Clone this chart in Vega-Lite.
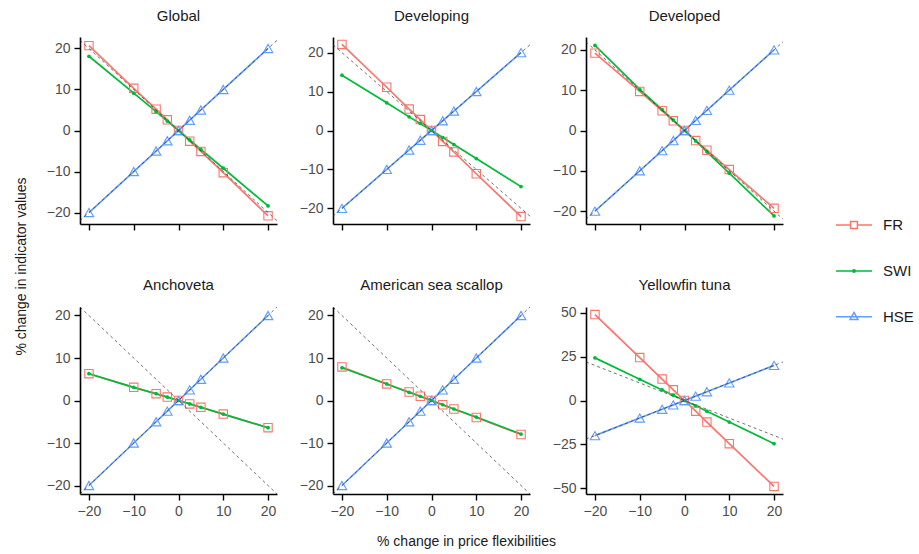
{
  "$schema": "https://vega.github.io/schema/vega-lite/v6.json",
  "datasets": {
    "main": [
      {"panel":"Global","series":"FR","x":-20,"y":20.7},{"panel":"Global","series":"FR","x":-10,"y":10.3},{"panel":"Global","series":"FR","x":-5,"y":5.2},{"panel":"Global","series":"FR","x":-2.5,"y":2.6},{"panel":"Global","series":"FR","x":0,"y":0},{"panel":"Global","series":"FR","x":2.5,"y":-2.6},{"panel":"Global","series":"FR","x":5,"y":-5.1},{"panel":"Global","series":"FR","x":10,"y":-10.3},{"panel":"Global","series":"FR","x":20,"y":-20.8},
      {"panel":"Global","series":"SWI","x":-20,"y":18.1},{"panel":"Global","series":"SWI","x":-10,"y":9.1},{"panel":"Global","series":"SWI","x":-5,"y":4.6},{"panel":"Global","series":"SWI","x":-2.5,"y":2.3},{"panel":"Global","series":"SWI","x":0,"y":0},{"panel":"Global","series":"SWI","x":2.5,"y":-2.3},{"panel":"Global","series":"SWI","x":5,"y":-4.6},{"panel":"Global","series":"SWI","x":10,"y":-9.2},{"panel":"Global","series":"SWI","x":20,"y":-18.4},
      {"panel":"Global","series":"HSE","x":-20,"y":-20},{"panel":"Global","series":"HSE","x":-10,"y":-10},{"panel":"Global","series":"HSE","x":-5,"y":-5},{"panel":"Global","series":"HSE","x":-2.5,"y":-2.5},{"panel":"Global","series":"HSE","x":0,"y":0},{"panel":"Global","series":"HSE","x":2.5,"y":2.5},{"panel":"Global","series":"HSE","x":5,"y":5},{"panel":"Global","series":"HSE","x":10,"y":10},{"panel":"Global","series":"HSE","x":20,"y":20},
      {"panel":"Developing","series":"FR","x":-20,"y":22.1},{"panel":"Developing","series":"FR","x":-10,"y":11.1},{"panel":"Developing","series":"FR","x":-5,"y":5.5},{"panel":"Developing","series":"FR","x":-2.5,"y":2.8},{"panel":"Developing","series":"FR","x":0,"y":0},{"panel":"Developing","series":"FR","x":2.5,"y":-2.8},{"panel":"Developing","series":"FR","x":5,"y":-5.5},{"panel":"Developing","series":"FR","x":10,"y":-11.1},{"panel":"Developing","series":"FR","x":20,"y":-22.1},
      {"panel":"Developing","series":"SWI","x":-20,"y":14.2},{"panel":"Developing","series":"SWI","x":-10,"y":7.1},{"panel":"Developing","series":"SWI","x":-5,"y":3.5},{"panel":"Developing","series":"SWI","x":-2.5,"y":1.8},{"panel":"Developing","series":"SWI","x":0,"y":0},{"panel":"Developing","series":"SWI","x":2.5,"y":-1.8},{"panel":"Developing","series":"SWI","x":5,"y":-3.6},{"panel":"Developing","series":"SWI","x":10,"y":-7.2},{"panel":"Developing","series":"SWI","x":20,"y":-14.4},
      {"panel":"Developing","series":"HSE","x":-20,"y":-20},{"panel":"Developing","series":"HSE","x":-10,"y":-10},{"panel":"Developing","series":"HSE","x":-5,"y":-5},{"panel":"Developing","series":"HSE","x":-2.5,"y":-2.5},{"panel":"Developing","series":"HSE","x":0,"y":0},{"panel":"Developing","series":"HSE","x":2.5,"y":2.5},{"panel":"Developing","series":"HSE","x":5,"y":5},{"panel":"Developing","series":"HSE","x":10,"y":10},{"panel":"Developing","series":"HSE","x":20,"y":20},
      {"panel":"Developed","series":"FR","x":-20,"y":19.2},{"panel":"Developed","series":"FR","x":-10,"y":9.7},{"panel":"Developed","series":"FR","x":-5,"y":4.9},{"panel":"Developed","series":"FR","x":-2.5,"y":2.4},{"panel":"Developed","series":"FR","x":0,"y":0},{"panel":"Developed","series":"FR","x":2.5,"y":-2.5},{"panel":"Developed","series":"FR","x":5,"y":-4.9},{"panel":"Developed","series":"FR","x":10,"y":-9.7},{"panel":"Developed","series":"FR","x":20,"y":-19.3},
      {"panel":"Developed","series":"SWI","x":-20,"y":21.1},{"panel":"Developed","series":"SWI","x":-10,"y":10.2},{"panel":"Developed","series":"SWI","x":-5,"y":5.2},{"panel":"Developed","series":"SWI","x":-2.5,"y":2.6},{"panel":"Developed","series":"SWI","x":0,"y":0},{"panel":"Developed","series":"SWI","x":2.5,"y":-2.6},{"panel":"Developed","series":"SWI","x":5,"y":-5.3},{"panel":"Developed","series":"SWI","x":10,"y":-10.6},{"panel":"Developed","series":"SWI","x":20,"y":-21.2},
      {"panel":"Developed","series":"HSE","x":-20,"y":-20},{"panel":"Developed","series":"HSE","x":-10,"y":-10},{"panel":"Developed","series":"HSE","x":-5,"y":-5},{"panel":"Developed","series":"HSE","x":-2.5,"y":-2.5},{"panel":"Developed","series":"HSE","x":0,"y":0},{"panel":"Developed","series":"HSE","x":2.5,"y":2.5},{"panel":"Developed","series":"HSE","x":5,"y":5},{"panel":"Developed","series":"HSE","x":10,"y":10},{"panel":"Developed","series":"HSE","x":20,"y":20},
      {"panel":"Anchoveta","series":"FR","x":-20,"y":6.3},{"panel":"Anchoveta","series":"FR","x":-10,"y":3.1},{"panel":"Anchoveta","series":"FR","x":-5,"y":1.6},{"panel":"Anchoveta","series":"FR","x":-2.5,"y":0.8},{"panel":"Anchoveta","series":"FR","x":0,"y":0},{"panel":"Anchoveta","series":"FR","x":2.5,"y":-0.8},{"panel":"Anchoveta","series":"FR","x":5,"y":-1.6},{"panel":"Anchoveta","series":"FR","x":10,"y":-3.2},{"panel":"Anchoveta","series":"FR","x":20,"y":-6.4},
      {"panel":"Anchoveta","series":"SWI","x":-20,"y":6.3},{"panel":"Anchoveta","series":"SWI","x":-10,"y":3.1},{"panel":"Anchoveta","series":"SWI","x":-5,"y":1.6},{"panel":"Anchoveta","series":"SWI","x":-2.5,"y":0.8},{"panel":"Anchoveta","series":"SWI","x":0,"y":0},{"panel":"Anchoveta","series":"SWI","x":2.5,"y":-0.8},{"panel":"Anchoveta","series":"SWI","x":5,"y":-1.6},{"panel":"Anchoveta","series":"SWI","x":10,"y":-3.2},{"panel":"Anchoveta","series":"SWI","x":20,"y":-6.4},
      {"panel":"Anchoveta","series":"HSE","x":-20,"y":-20},{"panel":"Anchoveta","series":"HSE","x":-10,"y":-10},{"panel":"Anchoveta","series":"HSE","x":-5,"y":-5},{"panel":"Anchoveta","series":"HSE","x":-2.5,"y":-2.5},{"panel":"Anchoveta","series":"HSE","x":0,"y":0},{"panel":"Anchoveta","series":"HSE","x":2.5,"y":2.5},{"panel":"Anchoveta","series":"HSE","x":5,"y":5},{"panel":"Anchoveta","series":"HSE","x":10,"y":10},{"panel":"Anchoveta","series":"HSE","x":20,"y":20},
      {"panel":"American sea scallop","series":"FR","x":-20,"y":7.9},{"panel":"American sea scallop","series":"FR","x":-10,"y":3.9},{"panel":"American sea scallop","series":"FR","x":-5,"y":2.0},{"panel":"American sea scallop","series":"FR","x":-2.5,"y":1.0},{"panel":"American sea scallop","series":"FR","x":0,"y":0},{"panel":"American sea scallop","series":"FR","x":2.5,"y":-1.0},{"panel":"American sea scallop","series":"FR","x":5,"y":-2.0},{"panel":"American sea scallop","series":"FR","x":10,"y":-4.0},{"panel":"American sea scallop","series":"FR","x":20,"y":-8.0},
      {"panel":"American sea scallop","series":"SWI","x":-20,"y":7.7},{"panel":"American sea scallop","series":"SWI","x":-10,"y":3.9},{"panel":"American sea scallop","series":"SWI","x":-5,"y":1.9},{"panel":"American sea scallop","series":"SWI","x":-2.5,"y":1.0},{"panel":"American sea scallop","series":"SWI","x":0,"y":0},{"panel":"American sea scallop","series":"SWI","x":2.5,"y":-1.0},{"panel":"American sea scallop","series":"SWI","x":5,"y":-2.0},{"panel":"American sea scallop","series":"SWI","x":10,"y":-3.9},{"panel":"American sea scallop","series":"SWI","x":20,"y":-7.9},
      {"panel":"American sea scallop","series":"HSE","x":-20,"y":-20},{"panel":"American sea scallop","series":"HSE","x":-10,"y":-10},{"panel":"American sea scallop","series":"HSE","x":-5,"y":-5},{"panel":"American sea scallop","series":"HSE","x":-2.5,"y":-2.5},{"panel":"American sea scallop","series":"HSE","x":0,"y":0},{"panel":"American sea scallop","series":"HSE","x":2.5,"y":2.5},{"panel":"American sea scallop","series":"HSE","x":5,"y":5},{"panel":"American sea scallop","series":"HSE","x":10,"y":10},{"panel":"American sea scallop","series":"HSE","x":20,"y":20},
      {"panel":"Yellowfin tuna","series":"FR","x":-20,"y":49.0},{"panel":"Yellowfin tuna","series":"FR","x":-10,"y":24.5},{"panel":"Yellowfin tuna","series":"FR","x":-5,"y":12.2},{"panel":"Yellowfin tuna","series":"FR","x":-2.5,"y":6.1},{"panel":"Yellowfin tuna","series":"FR","x":0,"y":0},{"panel":"Yellowfin tuna","series":"FR","x":2.5,"y":-6.1},{"panel":"Yellowfin tuna","series":"FR","x":5,"y":-12.3},{"panel":"Yellowfin tuna","series":"FR","x":10,"y":-24.6},{"panel":"Yellowfin tuna","series":"FR","x":20,"y":-49.0},
      {"panel":"Yellowfin tuna","series":"SWI","x":-20,"y":24.3},{"panel":"Yellowfin tuna","series":"SWI","x":-10,"y":12.1},{"panel":"Yellowfin tuna","series":"SWI","x":-5,"y":6.0},{"panel":"Yellowfin tuna","series":"SWI","x":-2.5,"y":3.0},{"panel":"Yellowfin tuna","series":"SWI","x":0,"y":0},{"panel":"Yellowfin tuna","series":"SWI","x":2.5,"y":-3.0},{"panel":"Yellowfin tuna","series":"SWI","x":5,"y":-6.1},{"panel":"Yellowfin tuna","series":"SWI","x":10,"y":-12.3},{"panel":"Yellowfin tuna","series":"SWI","x":20,"y":-24.6},
      {"panel":"Yellowfin tuna","series":"HSE","x":-20,"y":-20},{"panel":"Yellowfin tuna","series":"HSE","x":-10,"y":-10},{"panel":"Yellowfin tuna","series":"HSE","x":-5,"y":-5},{"panel":"Yellowfin tuna","series":"HSE","x":-2.5,"y":-2.5},{"panel":"Yellowfin tuna","series":"HSE","x":0,"y":0},{"panel":"Yellowfin tuna","series":"HSE","x":2.5,"y":2.5},{"panel":"Yellowfin tuna","series":"HSE","x":5,"y":5},{"panel":"Yellowfin tuna","series":"HSE","x":10,"y":10},{"panel":"Yellowfin tuna","series":"HSE","x":20,"y":20}
    ],
    "ref": [
      {"ref":"up","x":-22,"y":-22},{"ref":"up","x":22,"y":22},
      {"ref":"down","x":-22,"y":22},{"ref":"down","x":22,"y":-22}
    ]
  },
  "data": {"name": "main"},
  "columns": 3,
  "spacing": {"row": 83, "column": 56},
  "bounds": "flush",
  "padding": {"left": 14, "top": 9, "right": 5, "bottom": 5},
  "concat": [
    {
      "width": 197, "height": 187, "title": "Global",
      "encoding": {
        "x": {"field": "x", "type": "quantitative", "scale": {"domain": [-22, 22], "nice": false, "zero": false}, "axis": {"values": [-20, -10, 0, 10, 20], "labels": false, "title": null}},
        "y": {"field": "y", "type": "quantitative", "scale": {"domain": [-22.8, 22.8], "nice": false, "zero": false}, "axis": {"values": [-20, -10, 0, 10, 20], "title": "% change in indicator values", "titleX": -55, "titleY": 229, "titleBaseline": "alphabetic", "titleAnchor": null, "titleAlign": "center"}}
      },
      "layer": [
        {"transform": [{"filter": "datum.panel === 'Global'"}], "mark": {"type": "line", "strokeWidth": 1.7},
         "encoding": {"color": {"field": "series", "type": "nominal", "scale": {"domain": ["FR", "SWI", "HSE"], "range": ["#F8766D", "#00BA38", "#619CFF"]},
           "legend": {"title": null, "orient": "none", "legendX": 755, "legendY": 169, "symbolSize": 1296, "rowPadding": 18.9, "labelOffset": 10, "padding": 0, "symbolStrokeWidth": 1.5, "labelFontSize": 15, "labelColor": "#1a1a1a",
             "encode": {"symbols": {"update": {
               "shape": {"signal": "datum.value === 'FR' ? 'M-1,0H-0.19M0.19,0H1M-0.19,-0.19H0.19V0.19H-0.19Z' : datum.value === 'SWI' ? 'M-1,0H1M-0.07,0A0.07,0.07 0 1,0 0.07,0A0.07,0.07 0 1,0 -0.07,0Z' : 'M-1,0H1M0,-0.24L0.22,0.15L-0.22,0.15Z'"},
               "fillOpacity": {"signal": "datum.value === 'SWI' ? 1 : 0"}
             }}}}}}},
        {"transform": [{"filter": "datum.panel === 'Global' && datum.series === 'FR'"}], "mark": {"type": "point", "shape": "square", "filled": false, "size": 70, "strokeWidth": 1.1, "opacity": 1}, "encoding": {"color": {"field": "series", "type": "nominal", "legend": null}}},
        {"transform": [{"filter": "datum.panel === 'Global' && datum.series === 'SWI'"}], "mark": {"type": "point", "shape": "circle", "filled": true, "size": 14, "opacity": 1}, "encoding": {"color": {"field": "series", "type": "nominal", "legend": null}}},
        {"transform": [{"filter": "datum.panel === 'Global' && datum.series === 'HSE'"}], "mark": {"type": "point", "shape": "triangle-up", "filled": false, "size": 90, "strokeWidth": 1.1, "opacity": 1}, "encoding": {"color": {"field": "series", "type": "nominal", "legend": null}}},
        {"data": {"name": "ref"}, "mark": {"type": "line", "strokeDash": [3, 3], "strokeWidth": 0.7, "color": "#333333"}, "encoding": {"detail": {"field": "ref"}}}
      ]
    },
    {
      "width": 197, "height": 187, "title": "Developing",
      "encoding": {
        "x": {"field": "x", "type": "quantitative", "scale": {"domain": [-22, 22], "nice": false, "zero": false}, "axis": {"values": [-20, -10, 0, 10, 20], "labels": false, "title": null}},
        "y": {"field": "y", "type": "quantitative", "scale": {"domain": [-24, 24], "nice": false, "zero": false}, "axis": {"values": [-20, -10, 0, 10, 20], "title": null}}
      },
      "layer": [
        {"transform": [{"filter": "datum.panel === 'Developing'"}], "mark": {"type": "line", "strokeWidth": 1.7}, "encoding": {"color": {"field": "series", "type": "nominal", "legend": null}}},
        {"transform": [{"filter": "datum.panel === 'Developing' && datum.series === 'FR'"}], "mark": {"type": "point", "shape": "square", "filled": false, "size": 70, "strokeWidth": 1.1, "opacity": 1}, "encoding": {"color": {"field": "series", "type": "nominal", "legend": null}}},
        {"transform": [{"filter": "datum.panel === 'Developing' && datum.series === 'SWI'"}], "mark": {"type": "point", "shape": "circle", "filled": true, "size": 14, "opacity": 1}, "encoding": {"color": {"field": "series", "type": "nominal", "legend": null}}},
        {"transform": [{"filter": "datum.panel === 'Developing' && datum.series === 'HSE'"}], "mark": {"type": "point", "shape": "triangle-up", "filled": false, "size": 90, "strokeWidth": 1.1, "opacity": 1}, "encoding": {"color": {"field": "series", "type": "nominal", "legend": null}}},
        {"data": {"name": "ref"}, "mark": {"type": "line", "strokeDash": [3, 3], "strokeWidth": 0.7, "color": "#333333"}, "encoding": {"detail": {"field": "ref"}}}
      ]
    },
    {
      "width": 197, "height": 187, "title": "Developed",
      "encoding": {
        "x": {"field": "x", "type": "quantitative", "scale": {"domain": [-22, 22], "nice": false, "zero": false}, "axis": {"values": [-20, -10, 0, 10, 20], "labels": false, "title": null}},
        "y": {"field": "y", "type": "quantitative", "scale": {"domain": [-23.2, 23.2], "nice": false, "zero": false}, "axis": {"values": [-20, -10, 0, 10, 20], "title": null}}
      },
      "layer": [
        {"transform": [{"filter": "datum.panel === 'Developed'"}], "mark": {"type": "line", "strokeWidth": 1.7}, "encoding": {"color": {"field": "series", "type": "nominal", "legend": null}}},
        {"transform": [{"filter": "datum.panel === 'Developed' && datum.series === 'FR'"}], "mark": {"type": "point", "shape": "square", "filled": false, "size": 70, "strokeWidth": 1.1, "opacity": 1}, "encoding": {"color": {"field": "series", "type": "nominal", "legend": null}}},
        {"transform": [{"filter": "datum.panel === 'Developed' && datum.series === 'SWI'"}], "mark": {"type": "point", "shape": "circle", "filled": true, "size": 14, "opacity": 1}, "encoding": {"color": {"field": "series", "type": "nominal", "legend": null}}},
        {"transform": [{"filter": "datum.panel === 'Developed' && datum.series === 'HSE'"}], "mark": {"type": "point", "shape": "triangle-up", "filled": false, "size": 90, "strokeWidth": 1.1, "opacity": 1}, "encoding": {"color": {"field": "series", "type": "nominal", "legend": null}}},
        {"data": {"name": "ref"}, "mark": {"type": "line", "strokeDash": [3, 3], "strokeWidth": 0.7, "color": "#333333"}, "encoding": {"detail": {"field": "ref"}}}
      ]
    },
    {
      "width": 197, "height": 187, "title": "Anchoveta",
      "encoding": {
        "x": {"field": "x", "type": "quantitative", "scale": {"domain": [-22, 22], "nice": false, "zero": false}, "axis": {"values": [-20, -10, 0, 10, 20], "title": null}},
        "y": {"field": "y", "type": "quantitative", "scale": {"domain": [-22, 22], "nice": false, "zero": false}, "axis": {"values": [-20, -10, 0, 10, 20], "title": null}}
      },
      "layer": [
        {"transform": [{"filter": "datum.panel === 'Anchoveta'"}], "mark": {"type": "line", "strokeWidth": 1.7}, "encoding": {"color": {"field": "series", "type": "nominal", "legend": null}}},
        {"transform": [{"filter": "datum.panel === 'Anchoveta' && datum.series === 'FR'"}], "mark": {"type": "point", "shape": "square", "filled": false, "size": 70, "strokeWidth": 1.1, "opacity": 1}, "encoding": {"color": {"field": "series", "type": "nominal", "legend": null}}},
        {"transform": [{"filter": "datum.panel === 'Anchoveta' && datum.series === 'SWI'"}], "mark": {"type": "point", "shape": "circle", "filled": true, "size": 14, "opacity": 1}, "encoding": {"color": {"field": "series", "type": "nominal", "legend": null}}},
        {"transform": [{"filter": "datum.panel === 'Anchoveta' && datum.series === 'HSE'"}], "mark": {"type": "point", "shape": "triangle-up", "filled": false, "size": 90, "strokeWidth": 1.1, "opacity": 1}, "encoding": {"color": {"field": "series", "type": "nominal", "legend": null}}},
        {"data": {"name": "ref"}, "mark": {"type": "line", "strokeDash": [3, 3], "strokeWidth": 0.7, "color": "#333333"}, "encoding": {"detail": {"field": "ref"}}}
      ]
    },
    {
      "width": 197, "height": 187, "title": "American sea scallop",
      "encoding": {
        "x": {"field": "x", "type": "quantitative", "scale": {"domain": [-22, 22], "nice": false, "zero": false}, "axis": {"values": [-20, -10, 0, 10, 20], "title": "% change in price flexibilities", "titleX": 133, "titleY": 51, "titleBaseline": "alphabetic", "titleAnchor": null, "titleAlign": "center"}},
        "y": {"field": "y", "type": "quantitative", "scale": {"domain": [-22, 22], "nice": false, "zero": false}, "axis": {"values": [-20, -10, 0, 10, 20], "title": null}}
      },
      "layer": [
        {"transform": [{"filter": "datum.panel === 'American sea scallop'"}], "mark": {"type": "line", "strokeWidth": 1.7}, "encoding": {"color": {"field": "series", "type": "nominal", "legend": null}}},
        {"transform": [{"filter": "datum.panel === 'American sea scallop' && datum.series === 'FR'"}], "mark": {"type": "point", "shape": "square", "filled": false, "size": 70, "strokeWidth": 1.1, "opacity": 1}, "encoding": {"color": {"field": "series", "type": "nominal", "legend": null}}},
        {"transform": [{"filter": "datum.panel === 'American sea scallop' && datum.series === 'SWI'"}], "mark": {"type": "point", "shape": "circle", "filled": true, "size": 14, "opacity": 1}, "encoding": {"color": {"field": "series", "type": "nominal", "legend": null}}},
        {"transform": [{"filter": "datum.panel === 'American sea scallop' && datum.series === 'HSE'"}], "mark": {"type": "point", "shape": "triangle-up", "filled": false, "size": 90, "strokeWidth": 1.1, "opacity": 1}, "encoding": {"color": {"field": "series", "type": "nominal", "legend": null}}},
        {"data": {"name": "ref"}, "mark": {"type": "line", "strokeDash": [3, 3], "strokeWidth": 0.7, "color": "#333333"}, "encoding": {"detail": {"field": "ref"}}}
      ]
    },
    {
      "width": 197, "height": 187, "title": "Yellowfin tuna",
      "encoding": {
        "x": {"field": "x", "type": "quantitative", "scale": {"domain": [-22, 22], "nice": false, "zero": false}, "axis": {"values": [-20, -10, 0, 10, 20], "title": null}},
        "y": {"field": "y", "type": "quantitative", "scale": {"domain": [-53.3, 53.3], "nice": false, "zero": false}, "axis": {"values": [-50, -25, 0, 25, 50], "title": null}}
      },
      "layer": [
        {"transform": [{"filter": "datum.panel === 'Yellowfin tuna'"}], "mark": {"type": "line", "strokeWidth": 1.7}, "encoding": {"color": {"field": "series", "type": "nominal", "legend": null}}},
        {"transform": [{"filter": "datum.panel === 'Yellowfin tuna' && datum.series === 'FR'"}], "mark": {"type": "point", "shape": "square", "filled": false, "size": 70, "strokeWidth": 1.1, "opacity": 1}, "encoding": {"color": {"field": "series", "type": "nominal", "legend": null}}},
        {"transform": [{"filter": "datum.panel === 'Yellowfin tuna' && datum.series === 'SWI'"}], "mark": {"type": "point", "shape": "circle", "filled": true, "size": 14, "opacity": 1}, "encoding": {"color": {"field": "series", "type": "nominal", "legend": null}}},
        {"transform": [{"filter": "datum.panel === 'Yellowfin tuna' && datum.series === 'HSE'"}], "mark": {"type": "point", "shape": "triangle-up", "filled": false, "size": 90, "strokeWidth": 1.1, "opacity": 1}, "encoding": {"color": {"field": "series", "type": "nominal", "legend": null}}},
        {"data": {"name": "ref"}, "mark": {"type": "line", "strokeDash": [3, 3], "strokeWidth": 0.7, "color": "#333333"}, "encoding": {"detail": {"field": "ref"}}}
      ]
    }
  ],
  "config": {
    "font": "Liberation Sans",
    "background": "white",
    "view": {"stroke": null},
    "axis": {"domainColor": "#000000", "domainWidth": 1.6, "tickColor": "#000000", "tickWidth": 1.4, "tickSize": 6, "labelColor": "#4d4d4d", "labelFontSize": 14, "labelPadding": 4, "grid": false, "titleColor": "#1a1a1a", "titleFontSize": 14, "titleFontWeight": "normal"},
    "title": {"fontSize": 15, "fontWeight": "normal", "color": "#1a1a1a", "offset": 13}
  }
}
